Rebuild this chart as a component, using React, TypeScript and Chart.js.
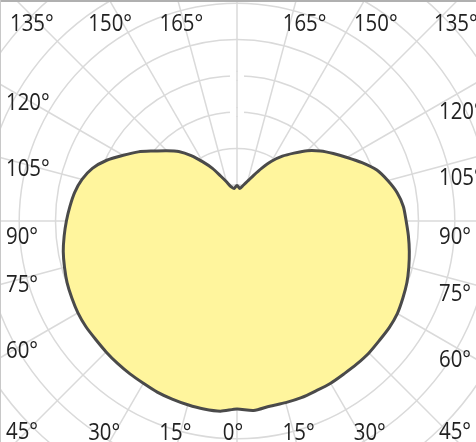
import { useEffect, useRef } from 'react'
import { Chart, registerables } from 'chart.js'

Chart.register(...registerables)

// polar angles, 0° straight down, going round clockwise (left half first)
const STEP = 5
const angles = Array.from({ length: 72 }, (_, i) => i * STEP)

// luminous intensity, left half-plane, 0°..180° every 5°
const leftPlane = [
    259, 263, 263, 262, 261, 260, 258, 257, 256, 255,
    254, 254, 253, 251, 249, 246, 243, 239, 235, 231,
    227, 221, 212, 198, 181, 166, 150, 137, 125, 110,
    94, 80, 66, 56, 48, 45, 49
]

// right half-plane, 0°..180° every 5°
const rightPlane = [
    259, 262, 259, 259, 259, 258, 258, 257, 257, 257,
    256, 256, 255, 252, 249, 245, 241, 237, 233, 230,
    224, 215, 205, 190, 175, 162, 150, 137, 122, 109,
    95, 80, 67, 57, 50, 45, 49
]

const labelAngles = [0, 15, 30, 45, 60, 75, 90, 105, 120, 135, 150, 165]
const ringStep = 50
const ringMax = 500
// rings left open where they cross the 180° line
const gappedRings = [3, 4]

const curve = angles.map(a => (a <= 180 ? leftPlane[a / STEP] : rightPlane[(360 - a) / STEP]))

// page layout
const VIEW_W = 476
const VIEW_H = 442
const CENTER_X = 237
const CENTER_Y = 221
const RADIUS = 363

const GRID = '#dadada'

const drawText = (ctx: CanvasRenderingContext2D, text: string, x: number, y: number) => {
    ctx.save()
    ctx.translate(x, y)
    ctx.scale(0.85, 1)
    ctx.fillText(text, 0, 0)
    ctx.restore()
}

// small breaks in the inner rings along the vertical axis
const ringGaps = {
    id: 'ringGaps',
    beforeDatasetsDraw(chart: any) {
        const r = chart.scales.r
        const ctx = chart.ctx
        ctx.save()
        for (const k of gappedRings) {
            const y = r.yCenter - r.getDistanceFromCenterForValue(k * ringStep)
            ctx.fillStyle = '#fff'
            ctx.fillRect(r.xCenter - 7, y - 4, 14, 8)
            ctx.strokeStyle = GRID
            ctx.lineWidth = 1.5
            ctx.beginPath()
            ctx.moveTo(r.xCenter, y - 5)
            ctx.lineTo(r.xCenter, y + 5)
            ctx.stroke()
        }
        ctx.restore()
    }
}

// angle labels sitting on the frame
const frameLabels = {
    id: 'frameLabels',
    afterDraw(chart: any) {
        const r = chart.scales.r
        const ctx = chart.ctx
        const cx = r.xCenter
        const cy = r.yCenter
        ctx.save()
        ctx.font = '24px "Open Sans"'
        ctx.fillStyle = '#222'
        ctx.textBaseline = 'alphabetic'
        for (const a of labelAngles) {
            for (const side of [-1, 1]) {
                if (a === 0 && side === 1) continue
                const text = a + '°'
                const rad = (a * Math.PI) / 180
                ctx.textAlign = 'left'
                const w = ctx.measureText(text).width * 0.85
                if (a <= 30 || a >= 150) {
                    const bottom = a <= 30
                    const dx = side * 230 * Math.tan(bottom ? rad : Math.PI - rad) + (bottom ? (a === 0 ? -4 : 0) : 6)
                    drawText(ctx, text, cx + dx - w / 2, cy + (bottom ? 219 : -190))
                } else {
                    const off = a === 90 ? 15 : side < 0 ? 5 : 14
                    let y = 215 / Math.tan(rad) + off
                    y = Math.max(-198, Math.min(210, y))
                    const x = side < 0 ? -231 + (a === 135 ? 4 : 0) : 202 - (a === 135 ? 5 : 0)
                    drawText(ctx, text, cx + x, cy + y + 8)
                }
            }
        }
        ctx.restore()
    }
}

export default function App() {
    const chartRef = useRef<HTMLCanvasElement>(null)
    const chartInstance = useRef<Chart | null>(null)

    useEffect(() => {
        if (!chartRef.current) return
        if (chartInstance.current) chartInstance.current.destroy()

        const ctx = chartRef.current.getContext('2d')
        if (!ctx) return

        chartInstance.current = new Chart(ctx, {
            type: 'radar',
            data: {
                labels: angles.map(a => (a <= 180 ? a : 360 - a) + '°'),
                datasets: [{
                    label: 'Intensity',
                    data: curve,
                    borderColor: '#4a4a4a',
                    borderWidth: 3,
                    backgroundColor: '#fff59d',
                    fill: true,
                    pointRadius: 0,
                    tension: 0.25
                }]
            },
            options: {
                responsive: false,
                animation: false,
                layout: { padding: 0 },
                plugins: {
                    legend: { display: false },
                    tooltip: { enabled: false }
                },
                scales: {
                    r: {
                        min: 0,
                        max: ringMax,
                        startAngle: 180,
                        ticks: { display: false, stepSize: ringStep },
                        pointLabels: { display: false },
                        grid: { circular: true, color: GRID, lineWidth: 1.5 },
                        angleLines: {
                            color: (c: any) => (c.index % 3 === 0 ? GRID : 'transparent'),
                            lineWidth: (c: any) => (c.index % 3 === 0 ? 1.5 : 0)
                        }
                    }
                }
            },
            plugins: [ringGaps, frameLabels]
        })

        return () => {
            if (chartInstance.current) {
                chartInstance.current.destroy()
                chartInstance.current = null
            }
        }
    }, [])

    return (
        <div style={{
            position: 'absolute', left: 0, top: 0,
            width: VIEW_W, height: VIEW_H,
            overflow: 'hidden', background: '#fff'
        }}>
            <canvas
                ref={chartRef}
                width={RADIUS * 2}
                height={RADIUS * 2}
                style={{ position: 'absolute', left: CENTER_X - RADIUS, top: CENTER_Y - RADIUS }}
            ></canvas>
            <div style={{ position: 'absolute', left: 0, top: 0, width: '100%', height: 2, background: '#b0b0b0' }}></div>
            <div style={{ position: 'absolute', left: 0, top: 0, width: 1, height: '100%', background: '#c8c8c8' }}></div>
        </div>
    )
}
